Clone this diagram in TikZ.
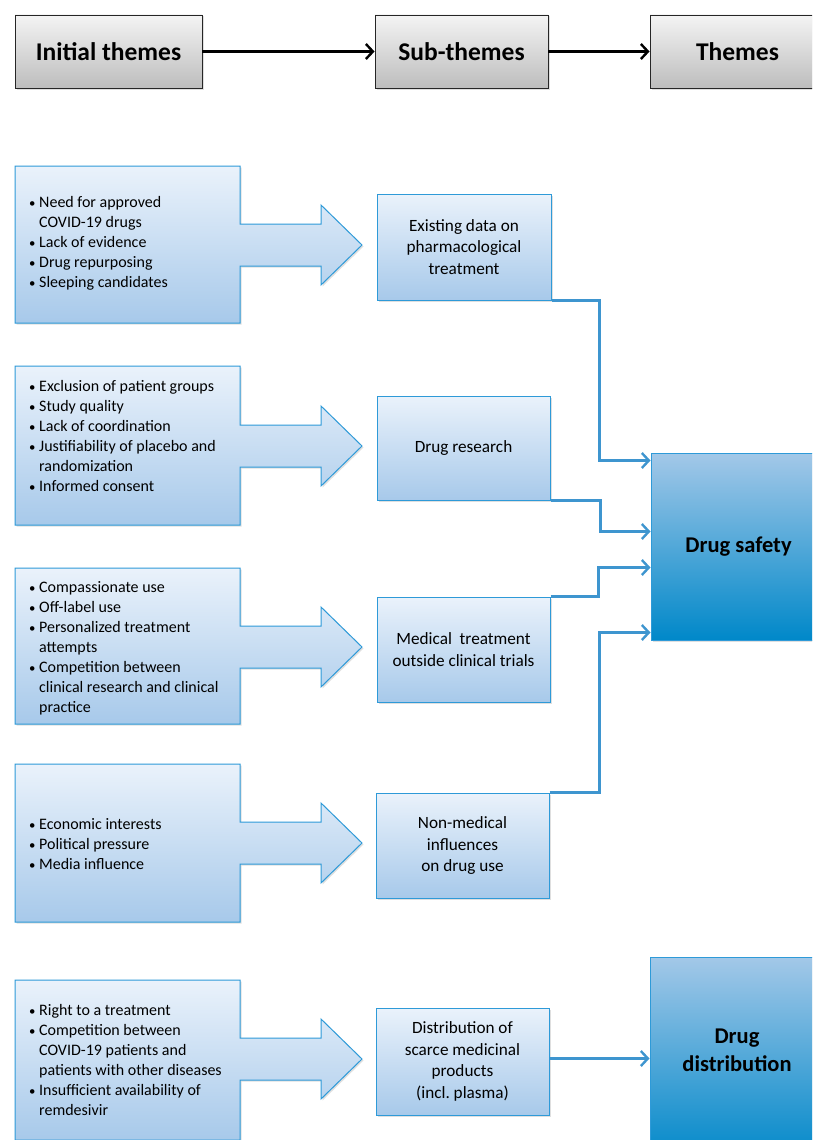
\documentclass[tikz,border=0pt]{standalone}
\usepackage{fontspec}
\setmainfont{Carlito}
\usetikzlibrary{arrows.meta,shadows,calc}
\definecolor{bdr}{HTML}{2E9AD8}
\definecolor{lt}{HTML}{EAF2FB}
\definecolor{lb}{HTML}{A7C9EA}
\definecolor{dt}{HTML}{A3C8E8}
\definecolor{db}{HTML}{0088C9}
\definecolor{con}{HTML}{3E95CF}
\definecolor{gt}{HTML}{F4F4F4}
\definecolor{gb}{HTML}{BDBDBD}
\newcommand{\bl}{\makebox[10pt][l]{\scalebox{0.8}{\textbullet}}}
\newcommand{\ind}{\hspace*{10pt}}
\tikzset{
  shd/.style={drop shadow={opacity=0.25,shadow xshift=1.5pt,shadow yshift=-1.5pt}},
  hdr/.style={shd,draw=black!85,line width=0.9pt,top color=gt,bottom color=gb,
    inner sep=0pt,font=\fontsize{25.5}{30}\selectfont\bfseries},
  subbox/.style={shd,draw=bdr,line width=1pt,top color=lt,bottom color=lb,
    inner sep=0pt,align=center,font=\fontsize{17.2}{21.5}\selectfont},
  themebox/.style={shd,draw=bdr,line width=1pt,top color=dt,bottom color=db,inner sep=0pt},
  callout/.style={shd,draw=bdr,line width=1pt,top color=lt,bottom color=lb},
  bultext/.style={anchor=west,inner sep=0pt,align=left,font=\fontsize{16}{20}\selectfont},
  hdrarrow/.style={line width=2.8pt,black,-{Straight Barb[length=7pt,width=15pt,line width=2.4pt]}},
  conn/.style={line width=2.8pt,con,-{Straight Barb[length=7pt,width=15pt,line width=2.4pt]}},
  themetext/.style={inner sep=0pt,align=center,font=\fontsize{22.5}{28}\selectfont\bfseries},
}
\newcommand{\callshape}[3]{%
  \path[callout] (15,#1) -- (240,#1) -- (240,#3-21) -- (321,#3-21) -- (321,#3-40) -- (362,#3)
    -- (321,#3+40) -- (321,#3+21) -- (240,#3+21) -- (240,#2) -- (15,#2) -- cycle;}
\begin{document}
\begin{tikzpicture}[x=1pt,y=-1pt]
\useasboundingbox (0,0) rectangle (812,1140);
\clip (0,0) rectangle (812,1140);
\fill[white] (0,0) rectangle (812,1140);

% header
\node[hdr,minimum width=187pt,minimum height=73pt] (init) at (108.5,51.5) {Initial themes};
\node[hdr,minimum width=173pt,minimum height=73pt] (subt) at (461.5,51.5) {Sub-themes};
\node[hdr,minimum width=175pt,minimum height=73pt] (them) at (737.5,51.5) {Themes};
\draw[hdrarrow] (init.east) -- (subt.west);
\draw[hdrarrow] (subt.east) -- (them.west);

% callouts
\callshape{166}{323}{245}
\callshape{366}{525}{446}
\callshape{568}{724}{647}
\callshape{764}{922}{843}
\callshape{980}{1140}{1059}

\node[bultext] (t1) at (29,243) {\bl Need for approved\\\ind COVID-19 drugs\\\bl Lack of evidence\\\bl Drug repurposing\\\bl Sleeping candidates};
\node[bultext] (t2) at (29,436) {\bl Exclusion of patient groups\\\bl Study quality\\\bl Lack of coordination\\\bl Justifiability of placebo and\\\ind randomization\\\bl Informed consent};
\node[bultext] (t3) at (29,648) {\bl Compassionate use\\\bl Off-label use\\\bl Personalized treatment\\\ind attempts\\\bl Competition between\\\ind clinical research and clinical\\\ind practice};
\node[bultext] (t4) at (29,844) {\bl Economic interests\\\bl Political pressure\\\bl Media influence};
\node[bultext] (t5) at (29,1060) {\bl Right to a treatment\\\bl Competition between\\\ind COVID-19 patients and\\\ind patients with other diseases\\\bl Insufficient availability of\\\ind remdesivir};

% sub-theme boxes
\node[subbox,minimum width=174pt,minimum height=106pt] (sb1) at (464,247) {Existing data on\\pharmacological\\treatment};
\node[subbox,minimum width=173pt,minimum height=104pt] (sb2) at (463.5,448) {Drug research};
\node[subbox,minimum width=173pt,minimum height=105pt] (sb3) at (463.5,649.5) {Medical\ \ treatment\\outside clinical trials};
\node[subbox,minimum width=173pt,minimum height=105pt] (sb4) at (462.5,845.5) {Non-medical\\influences\\on drug use};
\node[subbox,minimum width=173pt,minimum height=107pt] (sb5) at (462.5,1061.5) {Distribution of\\scarce medicinal\\products\\(incl.\ plasma)};

% theme boxes
\node[themebox,minimum width=179pt,minimum height=187pt] (safety) at (740.5,546.5) {};
\node[themetext] (safetyt) at (738.5,547) {Drug safety};
\node[themebox,minimum width=180pt,minimum height=203pt] (dist) at (740,1058.5) {};
\node[themetext] (distt) at (737,1050) {Drug\\distribution};

% connectors
\draw[conn] (sb1.south east) -- ++(48,0) |- ($(safety.north west)+(0,8)$);
\draw[conn] (sb2.south east) -- ++(50,0) |- ($(safety.north west)+(0,79)$);
\draw[conn] (sb3.north east) -- ++(48,0) |- ($(safety.north west)+(0,115)$);
\draw[conn] (sb4.north east) -- ++(50,0) |- ($(safety.north west)+(0,180)$);
\draw[conn] ([yshift=3pt]sb5.east) -- ([yshift=3pt]sb5.east -| dist.west);
\end{tikzpicture}
\end{document}
